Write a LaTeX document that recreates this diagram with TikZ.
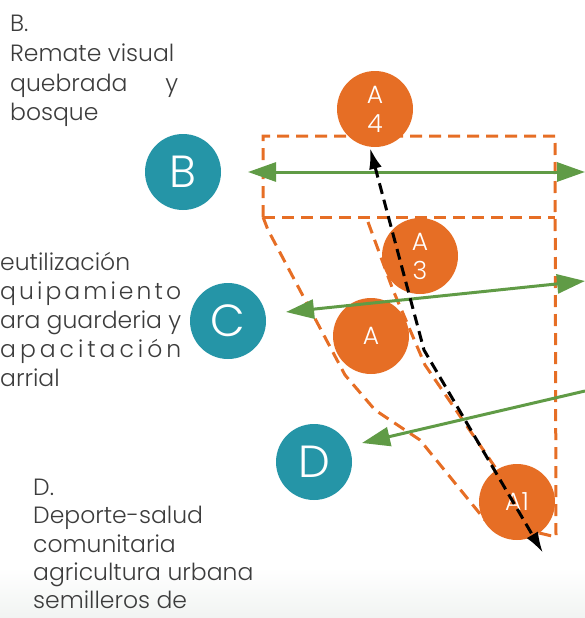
\documentclass[tikz,border=0pt]{standalone}
\usepackage{fontspec}
\IfFontExistsTF{Poppins Light}{\setmainfont{Poppins Light}}{\setmainfont{Poppins}}
\usetikzlibrary{arrows.meta}
\definecolor{tealc}{RGB}{37,149,167}
\definecolor{orng}{RGB}{230,110,37}
\definecolor{grn}{RGB}{96,155,70}
\definecolor{txt}{RGB}{60,60,60}
\definecolor{bgg}{RGB}{241,244,242}
\begin{document}
\begin{tikzpicture}[x=1pt,y=-1pt,
  tealcirc/.style={circle,fill=tealc,minimum size=76pt,inner sep=0pt,text=white,font=\fontsize{45}{45}\selectfont},
  orcirc/.style={circle,fill=orng,minimum size=76pt,inner sep=0pt,text=white,font=\fontsize{25}{29}\selectfont,align=center},
  odash/.style={draw=orng,line width=3pt,dash pattern=on 12pt off 7pt},
  garrow/.style={draw=grn,line width=3pt},
  gtip/.tip={Triangle[length=28pt,width=19pt]},
  btip/.tip={Latex[length=21pt,width=13pt]},
  barrow/.style={draw=black,line width=3pt,dash pattern=on 11pt off 6pt,btip-btip},
  lbl/.style={anchor=base west,inner sep=0pt,text=txt,font=\fontsize{23.5}{29}\selectfont}
]
\useasboundingbox (0,0) rectangle (585,618);
\shade[top color=white,bottom color=bgg] (0,568) rectangle (585,618);

% orange dashed outlines
\draw[odash] (263,217) -- (263,136) -- (555,136) -- (556,537) -- (485,520) -- (420,440) -- (375,410) -- (345,375) -- (268,230) -- (263,217);
\draw[odash] (263,217) -- (555,217);
\draw[odash] (368,222) -- (393,290) -- (425,365) -- (497,470) -- (512,495);

% circles
\node[tealcirc] (b) at (183,172) {B};
\node[tealcirc] (c) at (228,321) {C};
\node[tealcirc] (d) at (314,462) {D};
\node[orcirc] (a4) at (375,109) {A\\4};
\node[orcirc] (a3) at (420,256) {A\\3};
\node[orcirc] (a) at (371,336) {A};
\node[orcirc] (a1) at (517,502) {A1};

% green arrows
\coordinate (bl) at (248,172);
\coordinate (br) at (585,172);
\coordinate (cl) at (286,312);
\coordinate (cr) at (585,281);
\coordinate (dl) at (362,443);
\coordinate (dr) at (585,391);
\draw[garrow,gtip-gtip] (bl) -- (br);
\draw[garrow,gtip-gtip] (cl) -- (cr);
\draw[garrow,gtip-] (dl) -- (dr);

% black dashed arrow
\coordinate (kt) at (370,148);
\coordinate (km) at (424,350);
\coordinate (kb) at (543,553);
\draw[barrow] (kt) -- (km) -- (kb);

% texts
\node[lbl] (tb1) at (10,32) {B.};
\node[lbl] (tb2) at (10,62) {Remate visual};
\node[lbl] (tb3) at (10,92) {\hbox to 168pt{quebrada\hfill y}};
\node[lbl] (tb4) at (10,120) {bosque};

\node[lbl] (tc1) at (0,270) {eutilización};
\node[lbl] (tc2) at (0,299) {\hbox to 181pt{q\hfill u\hfill i\hfill p\hfill a\hfill m\hfill i\hfill e\hfill n\hfill t\hfill o}};
\node[lbl] (tc3) at (0,328) {\hbox to 181pt{ara\hfill guarderia\hfill y}};
\node[lbl] (tc4) at (0,357) {\hbox to 181pt{a\hfill p\hfill a\hfill c\hfill i\hfill t\hfill a\hfill c\hfill i\hfill ó\hfill n}};
\node[lbl] (tc5) at (0,386) {arrial};

\node[lbl] (td1) at (33,495) {D.};
\node[lbl] (td2) at (33,523) {Deporte-salud};
\node[lbl] (td3) at (33,552) {comunitaria};
\node[lbl] (td4) at (33,580) {agricultura urbana};
\node[lbl] (td5) at (33,608) {semilleros de};
\end{tikzpicture}
\end{document}
